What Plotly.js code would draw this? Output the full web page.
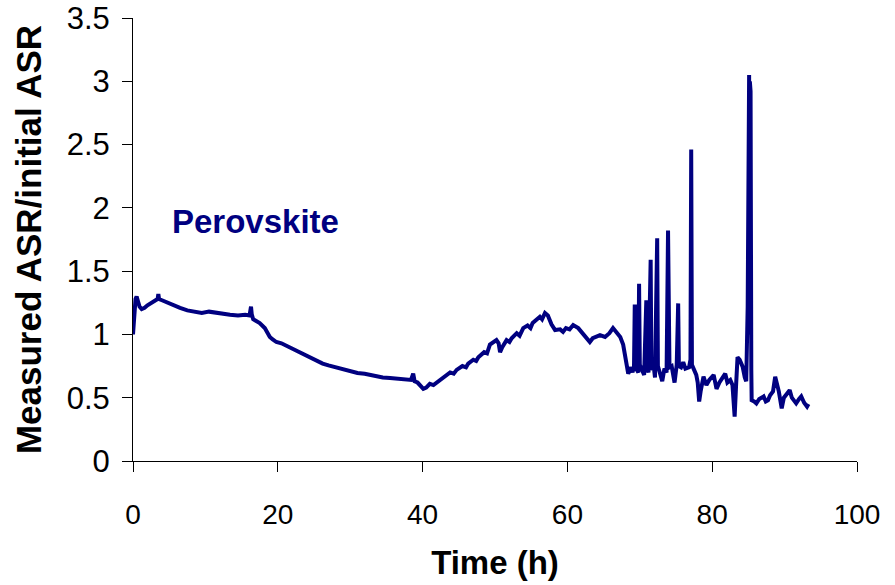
<!DOCTYPE html>
<html>
<head>
<meta charset="utf-8">
<script src="https://cdn.plot.ly/plotly-3.0.1.min.js"></script>
<style>html,body{margin:0;padding:0;background:#fff}#chart{width:895px;height:585px}</style>
</head>
<body>
<div id="chart"></div>
<script>
const timeH = [
  0, 0.1, 0.2, 0.35, 0.5, 0.7, 0.9, 1.2, 1.6, 2.0, 2.5, 3.0, 3.4, 3.5, 3.6, 4.0, 4.8, 5.5, 6.5, 7.5, 8.6, 9.5, 10.5, 11.5, 12.5, 13.4, 14.5, 15.5, 16.1, 16.3, 16.4, 16.6,
  16.9, 17.5, 18.2, 18.9, 19.3, 19.8, 20.5, 21.2, 22, 23.1, 24, 25, 26.2, 27, 28, 29, 30, 31, 32, 33, 33.7, 34.5, 35.5, 36.5, 37.8, 38.4, 38.7, 38.9, 39.3, 39.7, 40.1, 40.5, 41, 41.5, 42.4, 43, 43.8, 44.3, 44.7, 45.5, 46.0, 46.3, 47, 47.4, 47.7, 48.5, 48.9, 49.3, 49.8, 50.2, 50.5, 50.7, 51.0, 51.6, 52.0, 52.3, 53.0, 53.4, 53.9, 54.5, 54.9, 55.2, 55.8, 56.2, 56.5, 56.9, 57.3, 57.8, 58.3, 59, 59.4, 59.8, 60.3, 60.8, 61.5, 62.2, 63.1, 63.5, 63.8, 64.5, 65.2, 65.8, 66.3, 66.8, 67.3, 67.7, 68.0, 68.4,
  68.8, 69.0, 69.2, 69.3, 69.5, 69.6, 69.8, 69.9, 70.0, 70.3, 70.6, 70.9, 71.0, 71.2, 71.5, 71.6, 71.9, 72.1, 72.4, 72.5, 72.8, 73.1, 73.4, 73.7, 73.9, 74.1, 74.4, 74.8, 75.1, 75.3, 75.4, 75.7, 76.0, 76.3, 76.8, 77.0, 77.1, 77.2, 77.5, 77.8, 78.0, 78.2, 78.4, 78.8, 79.2, 79.6, 80.2, 80.4, 80.6, 81.0, 81.4, 81.8, 82.1, 82.5, 82.8, 83.1, 83.3, 83.5, 83.8, 84.2, 84.5, 84.7, 84.9, 85.0, 85.1, 85.15, 85.2, 85.3, 85.4, 85.45,
  85.8, 86.1, 86.5, 87.1, 87.4, 87.7, 88.0, 88.4, 88.7, 88.9, 89.2, 89.6, 89.9, 90.3, 90.7, 91.0, 91.3, 91.6, 92.0, 92.3, 92.7, 93.1, 93.3
];
const asrRatio = [
  1.00, 1.12, 1.20, 1.28, 1.30, 1.26, 1.22, 1.20, 1.21, 1.23, 1.25, 1.27, 1.28, 1.32, 1.28, 1.27, 1.25, 1.23, 1.21, 1.19, 1.18, 1.17, 1.18, 1.17, 1.16, 1.155, 1.15, 1.155, 1.15, 1.22, 1.16, 1.12,
  1.11, 1.09, 1.05, 0.98, 0.96, 0.94, 0.93, 0.91, 0.885, 0.855, 0.83, 0.80, 0.77, 0.755, 0.74, 0.72, 0.705, 0.695, 0.69, 0.675, 0.666, 0.66, 0.655, 0.65, 0.64, 0.64, 0.69, 0.63, 0.62, 0.59, 0.57, 0.58, 0.61, 0.60, 0.64, 0.67, 0.70, 0.69, 0.72, 0.75, 0.74, 0.77, 0.80, 0.79, 0.82, 0.86, 0.85, 0.92, 0.94, 0.955, 0.93, 0.86, 0.90, 0.955, 0.94, 0.97, 1.01, 0.99, 1.05, 1.07, 1.05, 1.09, 1.12, 1.14, 1.12, 1.17, 1.15, 1.08, 1.035, 1.04, 1.02, 1.05, 1.04, 1.074, 1.05, 1.00, 0.94, 0.97, 0.98, 0.995, 0.98, 1.01, 1.05, 1.02, 0.98, 0.92, 0.80, 0.69,
  0.74, 0.70, 0.75, 1.22, 1.22, 0.72, 0.70, 1.40, 0.76, 0.72, 0.68, 1.27, 0.74, 0.70, 1.59, 0.72, 0.76, 0.66, 1.76, 0.75, 0.70, 0.63, 0.73, 0.70, 1.82, 0.74, 0.75, 0.62, 0.76, 1.245, 0.75, 0.74, 0.78, 0.73, 0.74, 0.80, 2.46, 0.76, 0.72, 0.68, 0.62, 0.47, 0.55, 0.666, 0.60, 0.64, 0.68, 0.62, 0.57, 0.62, 0.66, 0.69, 0.62, 0.64, 0.60, 0.35, 0.60, 0.82, 0.80, 0.745, 0.66, 0.63, 1.22, 2.90, 3.05, 1.00, 3.00, 2.92, 0.72, 0.48,
  0.47, 0.455, 0.49, 0.51, 0.47, 0.48, 0.52, 0.55, 0.666, 0.62, 0.55, 0.416, 0.50, 0.53, 0.56, 0.50, 0.48, 0.455, 0.49, 0.51, 0.46, 0.43, 0.45
];
const xTicks = [0, 20, 40, 60, 80, 100];
const yTicks = [0, 0.5, 1, 1.5, 2, 2.5, 3, 3.5];
const seriesLabel = "Perovskite";

const navy = "#000080";
const data = [{
  x: timeH, y: asrRatio, type: "scatter", mode: "lines",
  line: {color: navy, width: 4}, hoverinfo: "skip"
}];
const layout = {
  width: 895, height: 585,
  margin: {l: 133, r: 38, t: 18, b: 124},
  paper_bgcolor: "#fff", plot_bgcolor: "#fff",
  showlegend: false,
  font: {family: "Arial, 'Liberation Sans', sans-serif", color: "#000"},
  xaxis: {
    range: [0, 100], tickvals: xTicks, ticktext: xTicks.map(String),
    showgrid: false, zeroline: false, showline: true, linecolor: "#000", linewidth: 1,
    ticks: "outside", ticklen: 10, tickcolor: "#000", tickwidth: 1,
    tickfont: {size: 28},
    ticklabelstandoff: 18,
    title: {text: "<b>Time (h)</b>", font: {size: 33}, standoff: 22},
    automargin: false
  },
  yaxis: {
    range: [0, 3.5], tickvals: yTicks, ticktext: yTicks.map(String),
    showgrid: false, zeroline: false, showline: true, linecolor: "#000", linewidth: 1,
    ticks: "outside", ticklen: 10, tickcolor: "#000", tickwidth: 1,
    tickfont: {size: 31},
    ticklabelstandoff: 6,
    title: {text: "<b>Measured ASR/initial ASR</b>", font: {size: 35}, standoff: 14},
    automargin: false
  },
  annotations: [{
    text: "<b>" + seriesLabel + "</b>", x: 5.1, y: 1.89, xref: "x", yref: "y",
    xanchor: "left", yanchor: "middle", showarrow: false,
    font: {size: 33, color: navy}
  }]
};
Plotly.newPlot("chart", data, layout, {staticPlot: true, displayModeBar: false});
</script>
</body>
</html>
